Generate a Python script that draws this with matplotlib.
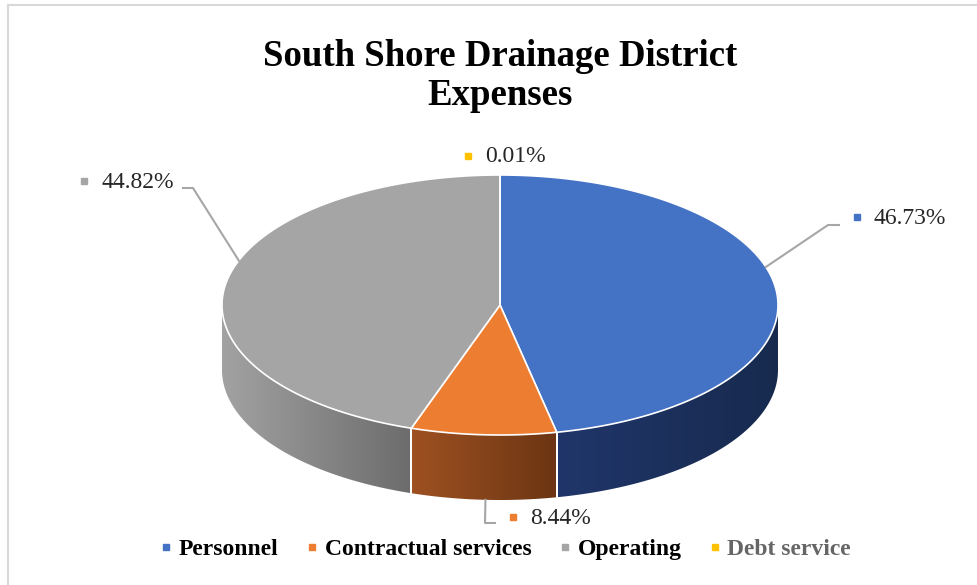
import numpy as np
import matplotlib
matplotlib.use("Agg")
import matplotlib.pyplot as plt
from matplotlib.patches import Polygon
from matplotlib.lines import Line2D
from matplotlib.colors import LinearSegmentedColormap

# ── data ──────────────────────────────────────────────────────────────────────
categories = ["Personnel", "Contractual services", "Operating", "Debt service"]
shares = [46.73, 8.44, 44.82, 0.01]          # percent of total expenses
title = "South Shore Drainage District\nExpenses"

# ── styling / layout (pixel space of a 977 x 585 canvas) ─────────────────────
top_colors = ["#4472C4", "#ED7D31", "#A5A5A5", "#FFC000"]
side_grad = [("#20366a", "#172a4e"), ("#9e5121", "#6c3513"),
             ("#a2a2a2", "#6c6c6c"), ("#b38600", "#8a6700")]
CX, CY, RX, RY, DEPTH = 500, 305, 278, 130, 65
LEADER_GREY = "#a6a6a6"

# label layout: (angle where leader starts, on side bottom?, elbow, end, marker x, y)
label_layout = [
    (73, False, (828, 225), (839, 225), 857, 217),
    (183, True, (485, 523), (495, 523), 513, 517),
    (290, False, (193, 188), (183, 188), 84, 181),
    (None, False, None, None, 468, 156),
]


def ell(theta_deg, drop=0.0):
    t = np.radians(theta_deg)
    return CX + RX * np.sin(t), CY - RY * np.cos(t) + drop


fig = plt.figure(figsize=(9.77, 5.85), dpi=100)
ax = fig.add_axes([0, 0, 1, 1])
ax.set_xlim(0, 977)
ax.set_ylim(585, 0)
ax.axis("off")

# chart frame (only top and left edges are visible in the source)
ax.plot([8, 977], [5, 5], color="#d9d9d9", lw=1.5, zorder=0)
ax.plot([8, 8], [5, 585], color="#d9d9d9", lw=1.5, zorder=0)

bounds = np.concatenate([[0], np.cumsum(shares)]) / 100.0 * 360.0

# ── extruded sides (front half only) ─────────────────────────────────────────
for i in range(len(shares)):
    t0, t1 = max(bounds[i], 90), min(bounds[i + 1], 270)
    if t1 <= t0:
        continue
    th = np.linspace(t0, t1, 80)
    xt, yt = ell(th)
    xb, yb = ell(th[::-1], DEPTH)
    verts = np.column_stack([np.r_[xt, xb], np.r_[yt, yb]])
    poly = Polygon(verts, closed=True, facecolor="none", edgecolor="none")
    ax.add_patch(poly)
    cmap = LinearSegmentedColormap.from_list("s%d" % i, side_grad[i])
    grad = np.linspace(0, 1, 256).reshape(1, -1)
    im = ax.imshow(grad, cmap=cmap, aspect="auto", zorder=1,
                   extent=(verts[:, 0].min(), verts[:, 0].max(),
                           verts[:, 1].max(), verts[:, 1].min()))
    im.set_clip_path(poly)
    # white seams between side panels
    for tb in (t0, t1):
        if 90 < tb < 270:
            x0, y0 = ell(tb)
            x1, y1 = ell(tb, DEPTH)
            ax.plot([x0, x1], [y0, y1], color="white", lw=1.4, zorder=2)

# ── top face ─────────────────────────────────────────────────────────────────
for i in range(len(shares)):
    th = np.linspace(bounds[i], bounds[i + 1], 200)
    xs, ys = ell(th)
    verts = np.column_stack([np.r_[CX, xs], np.r_[CY, ys]])
    ax.add_patch(Polygon(verts, closed=True, facecolor=top_colors[i],
                         edgecolor="white", lw=1.2, zorder=3))

# ── data labels with leader lines ────────────────────────────────────────────
for i, (ang, on_side, elbow, end, mx, my) in enumerate(label_layout):
    if ang is not None:
        sx, sy = ell(ang, DEPTH if on_side else 0)
        ax.plot([sx, elbow[0], end[0]], [sy, elbow[1], end[1]],
                color=LEADER_GREY, lw=1.5, zorder=4)
    ax.plot(mx, my, marker="s", ms=4.5, color=top_colors[i], ls="", zorder=5)
    ax.text(mx + 17, my + 1, f"{shares[i]:.2f}%", fontsize=17,
            family="Liberation Serif", color="#262626", va="center", ha="left")

# ── title ────────────────────────────────────────────────────────────────────
ax.text(500, 76, title, ha="center", va="center", fontsize=26.5,
        family="Liberation Serif", weight="bold", linespacing=1.15,
        color="black")

# ── legend ───────────────────────────────────────────────────────────────────
handles = [Line2D([], [], marker="s", ls="", ms=4.5, color=c) for c in top_colors]
leg = ax.legend(handles, categories, ncol=4, frameon=False,
                loc="center", bbox_to_anchor=(0.518, 0.061),
                prop={"family": "Liberation Serif", "weight": "bold", "size": 17},
                handlelength=0.45, handletextpad=0.3, columnspacing=1.2)
for txt, col in zip(leg.get_texts(), ["black", "black", "black", "#666666"]):
    txt.set_color(col)

fig.savefig("out.png", dpi=100)
